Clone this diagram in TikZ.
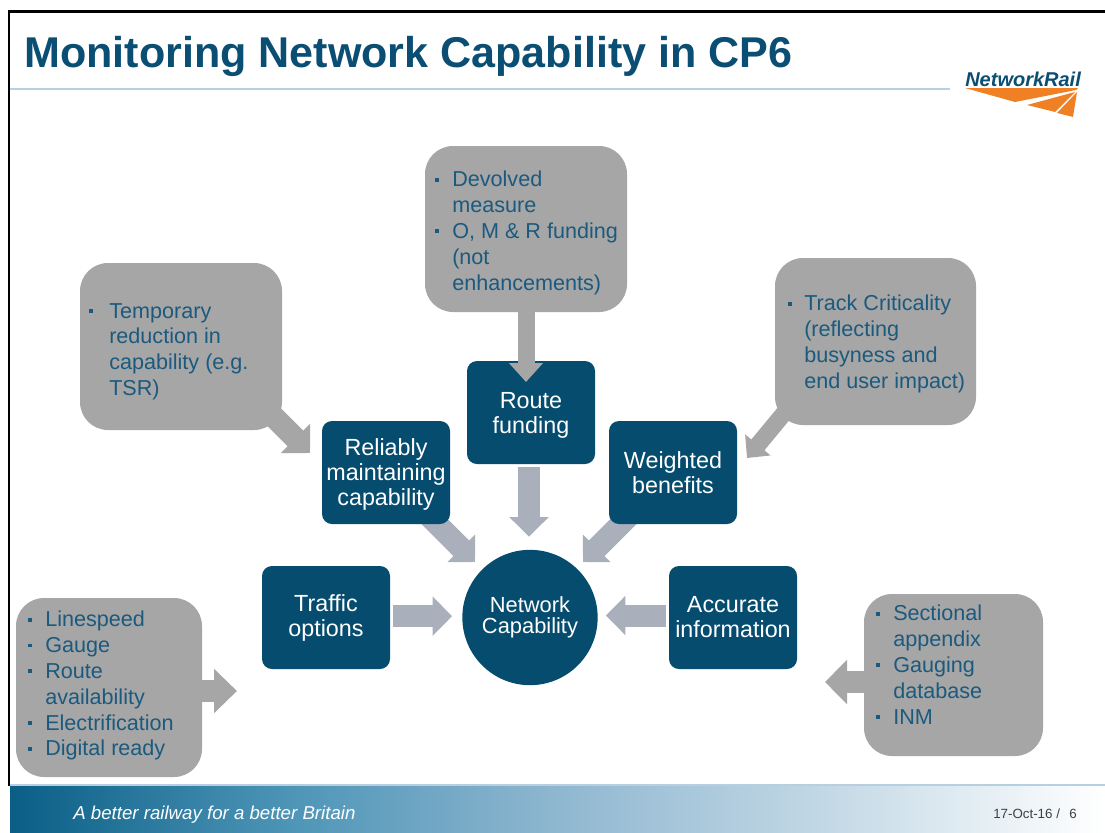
\documentclass[tikz,border=0pt]{standalone}
\usepackage{fontspec}
\setmainfont{Liberation Sans}
\usetikzlibrary{arrows.meta}
\definecolor{nrblue}{HTML}{064C6E}
\definecolor{titleblue}{HTML}{0A4E73}
\definecolor{callgray}{HTML}{A6A6A6}
\definecolor{calltextc}{HTML}{1B5A7E}
\definecolor{netarrowc}{HTML}{A9B0BB}
\definecolor{ruleblue}{HTML}{B7CFDF}
\definecolor{nrorange}{HTML}{F08024}
\definecolor{footA}{HTML}{0A5E86}
\definecolor{footB}{HTML}{4C94B6}
\definecolor{footC}{HTML}{8FB7D0}
\definecolor{footD}{HTML}{C4D9E6}
\pgfdeclarehorizontalshading{footgrad}{100bp}{color(0bp)=(footA); color(25bp)=(footA); color(37.5bp)=(footB); color(50bp)=(footC); color(62.5bp)=(footD); color(75bp)=(white); color(100bp)=(white)}
\newcommand{\bl}[2][12.75pt]{\makebox[#1][l]{\rule[0.25em]{2.8pt}{2.8pt}}#2}
\newcommand{\cl}[2][12.75pt]{\hspace*{#1}#2}
\tikzset{
  x=0.75pt,y=-0.75pt,
  bluebox/.style={fill=nrblue,rounded corners=7.5pt,minimum width=96pt,minimum height=77.25pt,inner sep=0pt,
    text=white,align=center,font={\fontsize{17.5}{18.75}\selectfont}},
  netcircle/.style={circle,fill=nrblue,minimum size=101.5pt,inner sep=0pt,text=white,align=center,
    font={\fontsize{16.4}{16.2}\selectfont}},
  callbox/.style={fill=callgray,rounded corners=21pt,inner sep=0pt},
  calltext/.style={anchor=north west,inner sep=0pt,text=calltextc,align=left,
    font={\fontsize{16.2}{19.35}\selectfont}},
  netarrow/.style={draw=netarrowc,line width=16.5pt,-{Triangle[length=14.5pt,width=28.5pt,fill=netarrowc]}},
}
\begin{document}
\begin{tikzpicture}
\useasboundingbox (0,0) rectangle (1105,832);
\fill[white] (0,0) rectangle (1105,832);
% frame, footer
\shade[shading=footgrad] (10,786) rectangle (1105,832);
\draw[ruleblue,line width=1pt] (10,785) -- (1105,785);
\draw[black,line width=1.8pt] (9,786) -- (9,11.5) -- (1105,11.5);
% title
\node[anchor=base west,inner sep=0pt,text=titleblue,font={\fontsize{32.3}{34}\selectfont\bfseries}] (title) at (24,67) {Monitoring Network Capability in CP6};
\coordinate (ruleL) at (10,89);
\coordinate (ruleR) at (950,89);
\draw[ruleblue,line width=1.5pt] (ruleL) -- (ruleR);
% logo
\node[anchor=base west,inner sep=0pt,text=titleblue,font={\fontsize{15}{16}\selectfont\bfseries\itshape}] (logo) at (965,86) {NetworkRail};
\fill[nrorange] (965,88) -- (1078,88) -- (1076,90) -- (1015,102) -- cycle;
\fill[nrorange] (1027,105) -- (1075,92) -- (1055,112) -- cycle;
\fill[nrorange] (1057,113) -- (1077,92) -- (1073,117) -- cycle;
% free ends
\coordinate (reltail) at (425,512);
\coordinate (reltip) at (475,562);
\coordinate (wtail) at (633,512);
\coordinate (wtip) at (583,562);
\coordinate (temptail) at (265,408);
\coordinate (temptip) at (310,453);
\coordinate (tracktail) at (795,400);
\coordinate (tracktip) at (747,458);
\coordinate (fundtip) at (526,382);
\coordinate (lefttip) at (237,691);
\coordinate (righttip) at (825,682);
% callouts
\node[callbox,minimum width=151.5pt,minimum height=125.25pt] (tempcall) at (181,346.5) {};
\node[callbox,minimum width=151.5pt,minimum height=124.5pt] (fundcall) at (526,229) {};
\node[callbox,minimum width=150.75pt,minimum height=125.25pt] (trackcall) at (875.5,341.5) {};
\node[callbox,minimum width=139.5pt,minimum height=134.25pt] (leftcall) at (109,687.5) {};
\node[callbox,minimum width=134.25pt,minimum height=121.5pt] (rightcall) at (953.5,675) {};
% centre arrows (under boxes)
\draw[netarrow] (reltail) -- (reltip);
\draw[netarrow] (wtail) -- (wtip);
% boxes
\node[bluebox] (fund) at (531,412.5) {\rule{0pt}{16.5pt}Route\\funding};
\node[bluebox] (rel) at (386,472.5) {\rule{0pt}{15.5pt}Reliably\\maintaining\\capability};
\node[bluebox] (wei) at (673,472.5) {Weighted\\benefits};
\node[bluebox] (acc) at (733,617.5) {Accurate\\information};
\node[bluebox] (tra) at (326,617.5) {Traffic\\options};
\node[netcircle] (net) at (530,617.5) {Network\\Capability};
% centre arrows
\draw[netarrow,shorten <=2.25pt,shorten >=9.75pt] ([xshift=-1.5pt]fund.south) -- ([xshift=-0.75pt]net.north);
\draw[netarrow,shorten <=2.25pt,shorten >=7.5pt] ([yshift=1pt]tra.east) -- ([yshift=1pt]net.west);
\draw[netarrow,shorten <=2.25pt,shorten >=6pt] ([yshift=1.5pt]acc.west) -- ([yshift=1.5pt]net.east);
% callout arrows
\draw[draw=callgray,line width=16.5pt,-{Triangle[length=15.5pt,width=30.5pt,fill=callgray]}] (temptail) -- (temptip);
\draw[draw=callgray,line width=12.75pt,-{Triangle[length=14.25pt,width=24.75pt,fill=callgray]}] (fundcall.south) -- (fundtip);
\draw[draw=callgray,line width=12.75pt,-{Triangle[length=12.75pt,width=24pt,fill=callgray]}] (tracktail) -- (tracktip);
\draw[draw=callgray,line width=16.5pt,-{Triangle[length=17.25pt,width=32.25pt,fill=callgray]}] (leftcall.east |- lefttip) -- (lefttip);
\draw[draw=callgray,line width=16.5pt,-{Triangle[length=16.5pt,width=32.25pt,fill=callgray]}] (rightcall.west |- righttip) -- (righttip);
% callout texts
\node[calltext] (temptext) at (89,303) {\bl[15pt]{Temporary}\\\cl[15pt]{reduction in}\\\cl[15pt]{capability (e.g.}\\\cl[15pt]{TSR)}};
\node[calltext] (fundtext) at (435,171) {\bl{Devolved}\\\cl{measure}\\\bl{O, M \& R funding}\\\cl{(not}\\\cl{enhancements)}};
\node[calltext] (tracktext) at (788,295) {\bl[12pt]{Track Criticality}\\\cl[12pt]{(reflecting}\\\cl[12pt]{busyness and}\\\cl[12pt]{end user impact)}};
\node[calltext] (lefttext) at (28,611) {\bl{Linespeed}\\\bl{Gauge}\\\bl{Route}\\\cl{availability}\\\bl{Electrification}\\\bl{Digital ready}};
\node[calltext] (righttext) at (876,605) {\bl{Sectional}\\\cl{appendix}\\\bl{Gauging}\\\cl{database}\\\bl{INM}};
% footer text
\node[anchor=base west,inner sep=0pt,text=white,font={\fontsize{14}{16}\selectfont\itshape}] (slogan) at (73,819) {A better railway for a better Britain};
\node[anchor=base west,inner sep=0pt,text=black!75,font={\fontsize{10}{11}\selectfont}] (date) at (993,818) {17-Oct-16 /\hspace{7pt}6};
\end{tikzpicture}
\end{document}
